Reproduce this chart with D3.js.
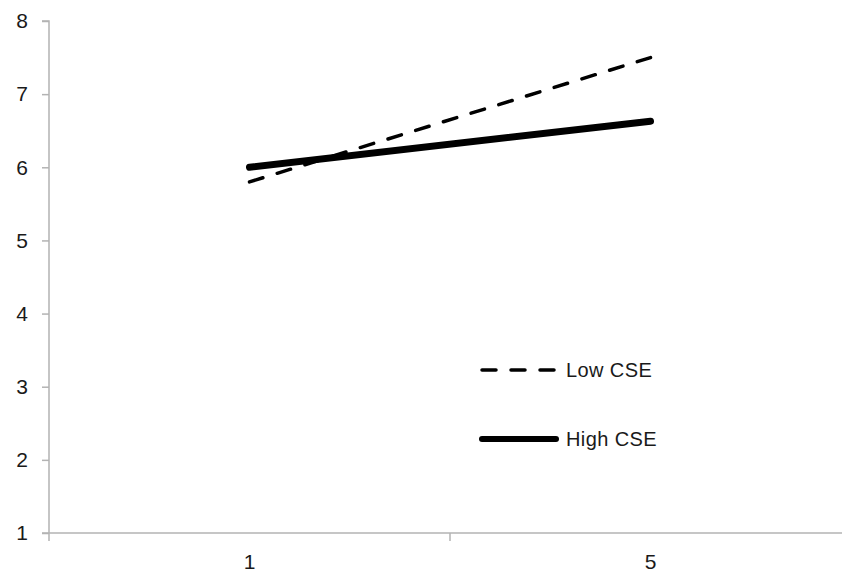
<!DOCTYPE html>
<html><head><meta charset="utf-8">
<script src="https://cdn.jsdelivr.net/npm/d3@7"></script>
<style>body{margin:0;background:#fff}svg{display:block}text{font-family:"Liberation Sans",Arial,sans-serif;fill:#1a1a1a}</style>
</head><body><svg id="c" width="842" height="575"></svg>
<script>
const categories = ["1", "5"];
const lowCSE = [5.8, 7.5];
const highCSE = [6.0, 6.63];
const yTicks = [1, 2, 3, 4, 5, 6, 7, 8];
const seriesNames = ["Low CSE", "High CSE"];

const svg = d3.select("#c");
const m = {left: 49, top: 21, bottom: 533};
const x = d3.scaleBand().domain(categories).range([m.left, m.left + 2 * 401]);
const y = d3.scaleLinear().domain([1, 8]).range([m.bottom, m.top]);
const axisColor = "#b3b3b3";

// y axis
const ya = svg.append("g").attr("transform", `translate(${m.left},0)`)
  .call(d3.axisLeft(y).tickValues(yTicks).tickSize(7).tickPadding(14).tickFormat(d3.format("d")));
ya.select(".domain").attr("stroke", axisColor).attr("stroke-width", 1.5).attr("d", `M-7,${m.top}H0V${m.bottom}`);
ya.selectAll(".tick line").attr("stroke", axisColor).attr("stroke-width", 1.5);
ya.selectAll(".tick text").attr("font-size", 21).attr("fill", "#1a1a1a").attr("font-family", "Liberation Sans, Arial, sans-serif");

// x axis
const xa = svg.append("g").attr("transform", `translate(0,${m.bottom})`);
xa.append("line").attr("x1", m.left - 7).attr("x2", 842).attr("y1", 0).attr("y2", 0)
  .attr("stroke", axisColor).attr("stroke-width", 1.5);
const bounds = [m.left, m.left + x.bandwidth(), m.left + 2 * x.bandwidth()];
xa.selectAll("line.tk").data(bounds).enter().append("line").attr("class", "tk")
  .attr("x1", d => d).attr("x2", d => d).attr("y1", 0).attr("y2", 8)
  .attr("stroke", axisColor).attr("stroke-width", 1.5);
xa.selectAll("text").data(categories).enter().append("text")
  .attr("x", d => x(d) + x.bandwidth() / 2).attr("y", 36)
  .attr("text-anchor", "middle").attr("font-size", 21).text(d => d);

const line = d3.line().x((d, i) => x(categories[i]) + x.bandwidth() / 2).y(d => y(d));

svg.append("path").datum(lowCSE).attr("d", line).attr("fill", "none")
  .attr("stroke", "#000").attr("stroke-width", 3.5).attr("stroke-dasharray", "14,15").attr("stroke-linecap", "round");
svg.append("path").datum(highCSE).attr("d", line).attr("fill", "none")
  .attr("stroke", "#000").attr("stroke-width", 7).attr("stroke-linecap", "round");

// legend
const lg = svg.append("g");
const legY = [370, 439];
lg.append("line").attr("x1", 482).attr("x2", 556).attr("y1", legY[0]).attr("y2", legY[0])
  .attr("stroke", "#000").attr("stroke-width", 3.5).attr("stroke-dasharray", "14,15").attr("stroke-linecap", "round");
lg.append("line").attr("x1", 482).attr("x2", 556).attr("y1", legY[1]).attr("y2", legY[1])
  .attr("stroke", "#000").attr("stroke-width", 6).attr("stroke-linecap", "round");
lg.selectAll("text").data(seriesNames).enter().append("text")
  .attr("x", 566).attr("y", (d, i) => legY[i]).attr("dy", "0.36em")
  .attr("font-size", 20).attr("letter-spacing", "0.4").text(d => d);
</script></body></html>
